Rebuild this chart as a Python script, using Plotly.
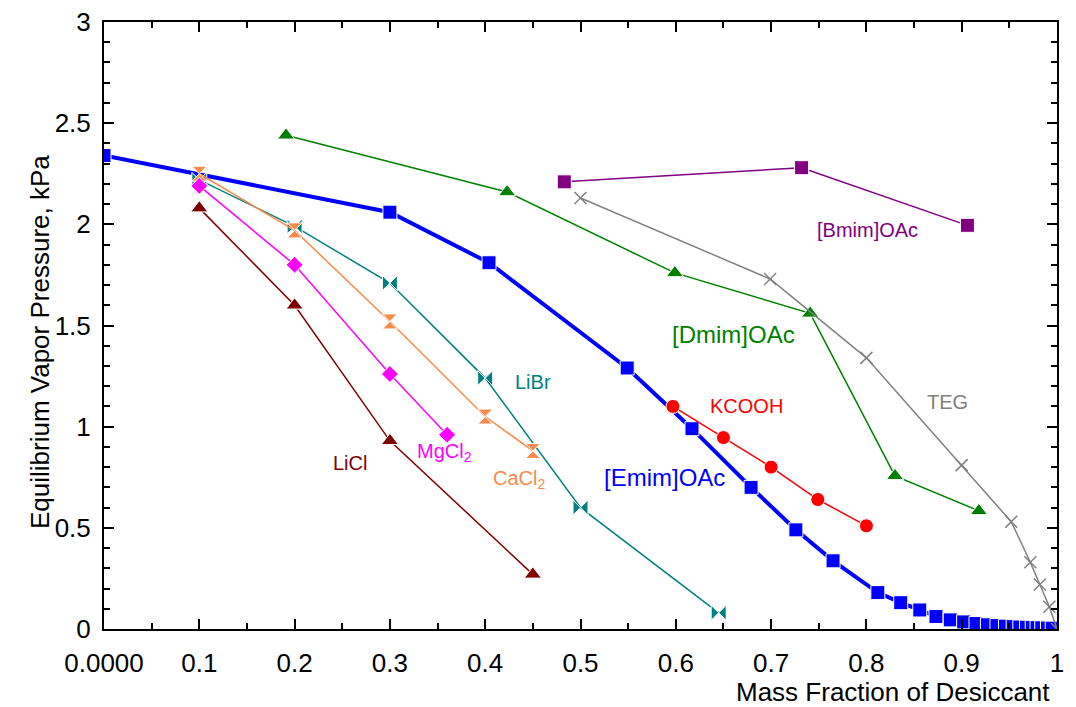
import plotly.graph_objects as go

# ---------------- data ----------------
emim_x = [0.0, 0.3, 0.404, 0.549, 0.617, 0.679, 0.726, 0.765, 0.812, 0.836, 0.856, 0.873,
          0.888, 0.902, 0.915, 0.927, 0.937, 0.946, 0.954, 0.961, 0.968, 0.974, 0.979,
          0.984, 0.990, 0.995]
emim_y = [2.34, 2.06, 1.81, 1.29, 0.99, 0.70, 0.49, 0.337, 0.18, 0.13, 0.094, 0.062,
          0.045, 0.035, 0.027, 0.021, 0.017, 0.014, 0.012, 0.010, 0.009, 0.008, 0.007,
          0.006, 0.005, 0.004]

libr_x = [0.1, 0.2, 0.3, 0.4, 0.5, 0.645]
libr_y = [2.22, 1.99, 1.71, 1.24, 0.60, 0.08]

cacl2_x = [0.1, 0.2, 0.3, 0.4, 0.45]
cacl2_y = [2.25, 1.97, 1.52, 1.05, 0.88]

mgcl2_x = [0.1, 0.2, 0.3, 0.36]
mgcl2_y = [2.19, 1.80, 1.26, 0.96]

licl_x = [0.1, 0.2, 0.3, 0.45]
licl_y = [2.08, 1.60, 0.93, 0.27]

dmim_x = [0.191, 0.423, 0.599, 0.741, 0.83, 0.918]
dmim_y = [2.44, 2.16, 1.76, 1.56, 0.757, 0.584]

bmim_x = [0.483, 0.732, 0.906]
bmim_y = [2.21, 2.28, 1.995]

teg_x = [0.5, 0.699, 0.8, 0.9, 0.952, 0.972, 0.982, 0.992, 1.0]
teg_y = [2.13, 1.73, 1.34, 0.81, 0.53, 0.33, 0.22, 0.11, 0.0]

kcooh_x = [0.597, 0.65, 0.70, 0.749, 0.80]
kcooh_y = [1.10, 0.946, 0.80, 0.64, 0.51]

x_tickvals = [0, 0.1, 0.2, 0.3, 0.4, 0.5, 0.6, 0.7, 0.8, 0.9, 1.0]
x_ticktext = ["0.0000", "0.1", "0.2", "0.3", "0.4", "0.5", "0.6", "0.7", "0.8", "0.9", "1"]
y_tickvals = [0, 0.5, 1, 1.5, 2, 2.5, 3]
y_ticktext = ["0", "0.5", "1", "1.5", "2", "2.5", "3"]

# labels: (text, x, y, color, size)
labels = [
    ("[Bmim]OAc", 0.801, 1.97, "#800080", 20),
    ("[Dmim]OAc", 0.661, 1.455, "#008000", 24),
    ("TEG", 0.885, 1.12, "#808080", 20),
    ("KCOOH", 0.674, 1.10, "#FF0000", 20),
    ("[Emim]OAc", 0.588, 0.75, "#0000FF", 24),
    ("LiBr", 0.45, 1.22, "#008080", 20),
    ("LiCl", 0.258, 0.82, "#800000", 20),
    ("MgCl<sub>2</sub>", 0.357, 0.87, "#FF00FF", 20),
    ("CaCl<sub>2</sub>", 0.435, 0.74, "#F98A4B", 20),
]

FONT = "Liberation Sans, Arial, sans-serif"

fig = go.Figure()

def add(x, y, color, symbol, size, lw, mline_color="white", mline_w=1):
    fig.add_trace(go.Scatter(
        x=x, y=y, mode="lines+markers",
        line=dict(color=color, width=lw),
        marker=dict(symbol=symbol, size=size, color=color,
                    line=dict(color=mline_color, width=mline_w)),
        showlegend=False,
    ))

add(emim_x, emim_y, "#0000FF", "square", 14, 4)
add(dmim_x, dmim_y, "#008000", "triangle-up", 15, 1.5)
add(bmim_x, bmim_y, "#800080", "square", 14, 1.5)
add(teg_x, teg_y, "#808080", "x-thin", 12, 1.5, mline_color="#808080", mline_w=1.5)
add(kcooh_x, kcooh_y, "#FF0000", "circle", 14, 1.5)
add(libr_x, libr_y, "#008080", "bowtie", 15, 1.5)
add(cacl2_x, cacl2_y, "#F98A4B", "hourglass", 15, 1.5)
add(mgcl2_x, mgcl2_y, "#FF00FF", "diamond", 13, 1.5)
add(licl_x, licl_y, "#800000", "triangle-up", 15, 1.5)

for text, lx, ly, col, sz in labels:
    fig.add_annotation(x=lx, y=ly, xref="x", yref="y", text=text, showarrow=False,
                       font=dict(family=FONT, size=sz, color=col),
                       xanchor="center", yanchor="middle")

fig.add_annotation(x=0.995, y=-0.104, xref="paper", yref="paper",
                   text="Mass Fraction of Desiccant", showarrow=False,
                   font=dict(family=FONT, size=26, color="black"),
                   xanchor="right", yanchor="middle")
fig.add_annotation(x=-0.067, y=0.473, xref="paper", yref="paper",
                   text="Equilibrium Vapor Pressure, kPa", showarrow=False, textangle=-90,
                   font=dict(family=FONT, size=26, color="black"),
                   xanchor="center", yanchor="middle")

axis_common = dict(
    showline=True, linecolor="black", linewidth=2, mirror="allticks",
    ticks="inside", ticklen=10, tickwidth=1.5, tickcolor="black",
    showgrid=False, zeroline=False, automargin=False, ticklabeloverflow="allow",
    tickfont=dict(family=FONT, size=26, color="black"),
)

fig.update_xaxes(range=[0, 1], tickvals=x_tickvals, ticktext=x_ticktext,
                 minor=dict(dtick=0.05, ticks="inside", ticklen=6, tickcolor="black", tickwidth=1.5),
                 ticklabelstandoff=10, **axis_common)
fig.update_yaxes(range=[0, 3], tickvals=y_tickvals, ticktext=y_ticktext,
                 minor=dict(dtick=0.1, ticks="inside", ticklen=6, tickcolor="black", tickwidth=1.5),
                 ticklabelstandoff=6, **axis_common)

fig.update_layout(
    width=1076, height=707,
    margin=dict(l=96, r=27, t=14, b=86),
    plot_bgcolor="white", paper_bgcolor="white",
    font=dict(family=FONT),
)

fig.write_html("out.html")
